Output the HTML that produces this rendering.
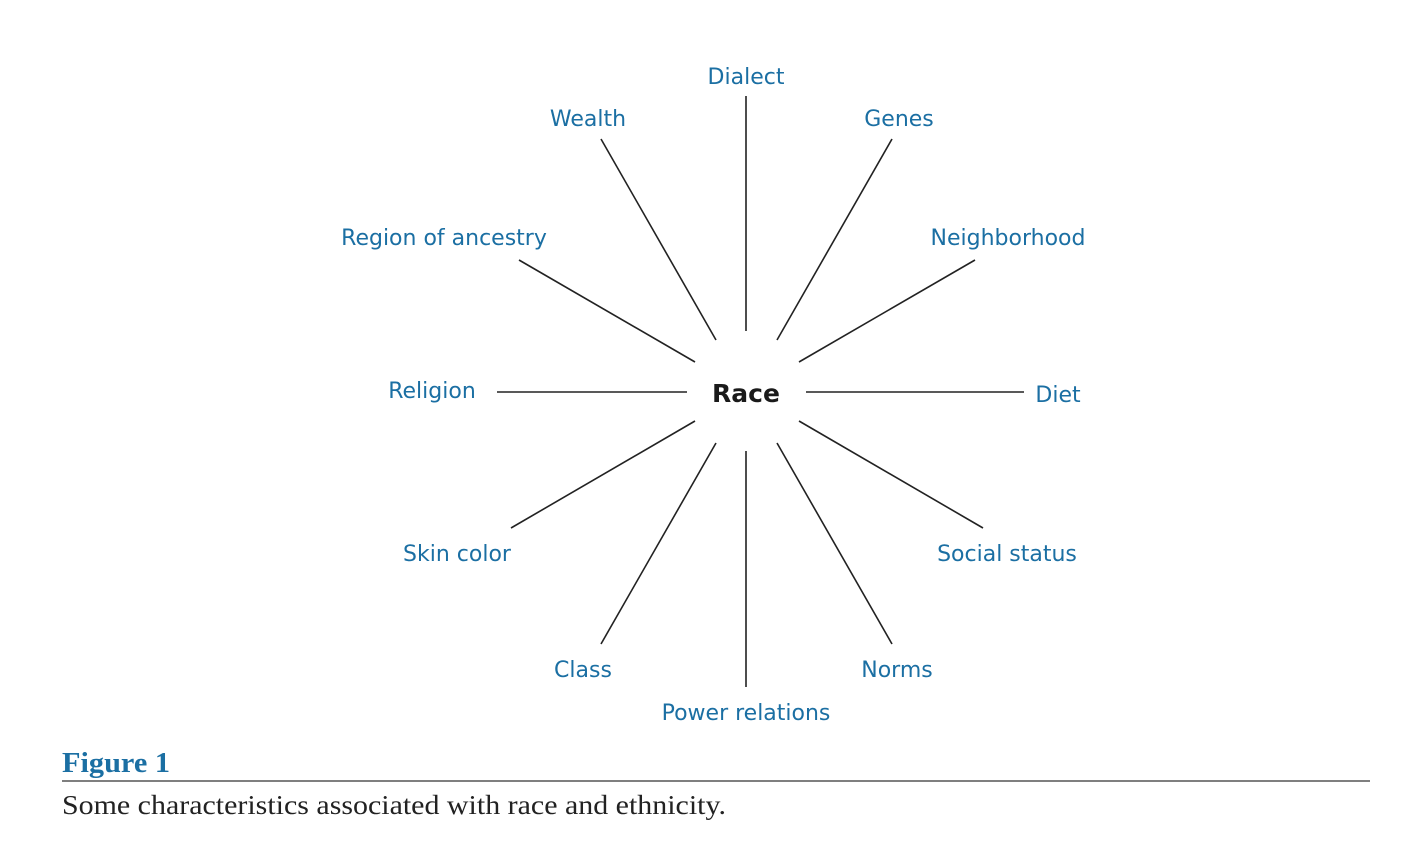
<!DOCTYPE html>
<html><head><meta charset="utf-8"><style>
html,body{margin:0;padding:0;background:#fff;}
svg{display:block;}
.l{font-family:"DejaVu Sans","Liberation Sans",sans-serif;font-size:22px;fill:#1b6fa3;text-anchor:middle;}
</style></head><body>
<svg width="1404" height="854" viewBox="0 0 1404 854" xmlns="http://www.w3.org/2000/svg">
<g stroke="#222" stroke-width="1.6" fill="none">
<line x1="746" y1="96" x2="746" y2="331"/>
<line x1="601" y1="139" x2="716" y2="340"/>
<line x1="892" y1="139" x2="777" y2="340"/>
<line x1="519" y1="260" x2="695" y2="362"/>
<line x1="975" y1="260" x2="799" y2="362"/>
<line x1="497" y1="392" x2="687" y2="392"/>
<line x1="806" y1="392" x2="1024" y2="392"/>
<line x1="511" y1="528" x2="695" y2="421"/>
<line x1="983" y1="528" x2="799" y2="421"/>
<line x1="601" y1="644" x2="716" y2="443"/>
<line x1="892" y1="644" x2="777" y2="443"/>
<line x1="746" y1="451" x2="746" y2="687"/>
</g>
<text class="l" x="746" y="84">Dialect</text>
<text class="l" x="588" y="126">Wealth</text>
<text class="l" x="899" y="126">Genes</text>
<text class="l" x="444" y="245">Region of ancestry</text>
<text class="l" x="1008" y="245">Neighborhood</text>
<text class="l" x="432" y="398">Religion</text>
<text class="l" x="1058" y="402">Diet</text>
<text class="l" x="457" y="561">Skin color</text>
<text class="l" x="1007" y="561">Social status</text>
<text class="l" x="583" y="677">Class</text>
<text class="l" x="897" y="677">Norms</text>
<text class="l" x="746" y="720">Power relations</text>
<text x="746" y="402" text-anchor="middle" font-family="'DejaVu Sans','Liberation Sans',sans-serif" font-weight="bold" font-size="25" fill="#1a1a1a">Race</text>
<text x="62" y="772" font-family="'Liberation Serif',serif" font-weight="bold" font-size="28" fill="#1b6fa3" textLength="108" lengthAdjust="spacingAndGlyphs">Figure 1</text>
<line x1="62" y1="781" x2="1370" y2="781" stroke="#555" stroke-width="1.5"/>
<text x="62" y="814" font-family="'Liberation Serif',serif" font-size="27" fill="#222" textLength="664" lengthAdjust="spacingAndGlyphs">Some characteristics associated with race and ethnicity.</text>
</svg>
</body></html>
